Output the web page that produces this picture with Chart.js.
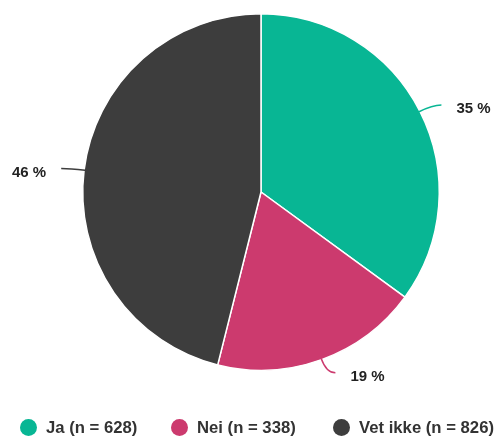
<!DOCTYPE html>
<html>
<head>
<meta charset="utf-8">
<script src="https://cdn.jsdelivr.net/npm/chart.js@4"></script>
<style>
  html, body { margin: 0; padding: 0; background: #fff; }
  .wrap { position: relative; width: 498px; height: 437px; }
  #legend {
    position: absolute; left: 0; top: 416px; width: 498px;
    font: bold 16.7px "Liberation Sans", Arial, sans-serif; color: #333;
  }
  #legend span.item { position: absolute; top: 2px; white-space: nowrap; }
  #legend span.dot {
    display: inline-block; width: 17px; height: 17px; border-radius: 50%;
    vertical-align: -3px; margin-right: 9px;
  }
</style>
</head>
<body>
<div class="wrap">
  <canvas id="pieChart" width="498" height="437"></canvas>
  <div id="legend"></div>
</div>
<script>
// data
const categories = ["Ja", "Nei", "Vet ikke"];
const counts = [628, 338, 826];
const percentLabels = ["35 %", "19 %", "46 %"];
const colors = ["#08b694", "#cc3a6e", "#3d3d3d"];
const legendX = [20, 171, 333];

// legend
const legend = document.getElementById("legend");
categories.forEach((c, i) => {
    const s = document.createElement("span");
    s.className = "item";
    s.style.left = legendX[i] + "px";
    s.innerHTML = `<span class="dot" style="background:${colors[i]}"></span>${c} (n = ${counts[i]})`;
    legend.appendChild(s);
});

// leader lines and percent labels
const outLabels = {
    id: "outLabels",
    afterDatasetsDraw(chart) {
        const ctx = chart.ctx;
        const meta = chart.getDatasetMeta(0);
        meta.data.forEach((arc, i) => {
            const a = (arc.startAngle + arc.endAngle) / 2;
            const r = arc.outerRadius;
            const cx = arc.x, cy = arc.y;
            const x0 = cx + Math.cos(a) * (r - 1);
            const y0 = cy + Math.sin(a) * (r - 1);
            const x1 = cx + Math.cos(a) * (r + 14);
            const y1 = cy + Math.sin(a) * (r + 14);
            const right = Math.cos(a) >= 0;
            const x2 = x1 + (right ? 9 : -9);
            ctx.save();
            ctx.strokeStyle = colors[i];
            ctx.lineWidth = 1.5;
            ctx.beginPath();
            ctx.moveTo(x0, y0);
            ctx.quadraticCurveTo(x1, y1, x2, y1);
            ctx.stroke();
            ctx.fillStyle = "#222";
            ctx.font = "bold 15px 'Liberation Sans', Arial, sans-serif";
            ctx.textBaseline = "middle";
            ctx.textAlign = right ? "left" : "right";
            ctx.fillText(percentLabels[i], x2 + (right ? 15 : -15), y1 + 4);
            ctx.restore();
        });
    }
};

new Chart(document.getElementById("pieChart"), {
    type: "pie",
    data: {
        labels: categories,
        datasets: [{
            data: counts,
            backgroundColor: colors,
            borderColor: "#ffffff",
            borderWidth: 1.5
        }]
    },
    options: {
        responsive: false,
        animation: false,
        layout: { padding: { top: 13, bottom: 66, left: 82, right: 58 } },
        plugins: {
            legend: { display: false },
            tooltip: { enabled: false }
        }
    },
    plugins: [outLabels]
});
</script>
</body>
</html>
